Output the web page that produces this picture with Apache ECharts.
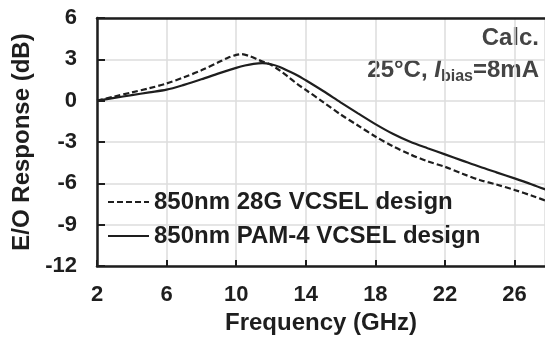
<!DOCTYPE html>
<html>
<head>
<meta charset="utf-8">
<title>E/O Response</title>
<script src="https://cdn.jsdelivr.net/npm/echarts@6/dist/echarts.min.js"></script>
<style>
    html, body { margin: 0; padding: 0; background: #fff; }
    #chart { width: 545px; height: 340px; }
</style>
</head>
<body>
<div id="chart"></div>
<script>
'use strict';

// 28G design (dashed)
var freq28G = [2, 3, 4, 5, 6, 7, 8, 9, 9.5, 10, 10.3, 10.8, 11.3, 12, 12.5, 13, 13.5, 14, 15, 16, 17, 18, 19, 20, 21, 22, 23, 24, 25, 26, 27, 28];
var resp28G = [0, 0.3, 0.6, 0.9, 1.25, 1.7, 2.2, 2.8, 3.1, 3.32, 3.38, 3.22, 2.95, 2.6, 2.2, 1.72, 1.22, 0.78, -0.1, -1.0, -1.8, -2.6, -3.3, -3.9, -4.4, -4.8, -5.3, -5.76, -6.1, -6.48, -6.9, -7.35];

// PAM-4 design (solid)
var freqPAM4 = [2, 3, 4, 5, 6, 7, 8, 9, 10, 10.5, 11, 11.5, 12, 12.5, 13, 13.5, 14, 15, 16, 17, 18, 19, 20, 21, 22, 23, 24, 25, 26, 27, 28];
var respPAM4 = [0, 0.2, 0.4, 0.6, 0.8, 1.15, 1.55, 1.98, 2.38, 2.55, 2.67, 2.72, 2.64, 2.45, 2.15, 1.85, 1.48, 0.7, -0.12, -0.92, -1.7, -2.4, -2.98, -3.45, -3.9, -4.35, -4.8, -5.22, -5.64, -6.08, -6.55];

var seriesNames = ['850nm 28G VCSEL design', '850nm PAM-4 VCSEL design'];
var yTicks = [-12, -9, -6, -3, 0, 3, 6];

// x axis starts at 2 GHz, ticks every 4 -> axis runs on (f - 2) so ticks fall on 2, 6, 10 ...
var X0 = 2;
function toPairs(xs, ys) {
    var out = [];
    for (var i = 0; i < xs.length; i++) {
        out.push([xs[i] - X0, ys[i]]);
    }
    return out;
}

var FONT = "'Liberation Sans', Arial, sans-serif";
var INK = '#1e1e1e';

var chart = echarts.init(document.getElementById('chart'));

var option = {
    animation: false,
    backgroundColor: '#fff',
    grid: { left: 97, right: 0, top: 18, bottom: 74 },
    legend: {
        orient: 'vertical',
        left: 107,
        top: 190,
        padding: 0,
        itemWidth: 41,
        itemHeight: 22,
        itemGap: 10,
        data: seriesNames,
        itemStyle: { opacity: 0 },
        textStyle: { fontFamily: FONT, fontSize: 24, fontWeight: 'bold', color: INK }
    },
    xAxis: [{
        type: 'value',
        min: 0,
        max: 25.75,
        interval: 4,
        name: 'Frequency (GHz)',
        nameLocation: 'middle',
        nameGap: 44,
        nameTextStyle: { fontFamily: FONT, fontSize: 24, fontWeight: 'bold', color: INK },
        axisLine: { show: true, onZero: false, lineStyle: { color: INK, width: 2.5 } },
        axisTick: { show: true, inside: true, length: 6, lineStyle: { color: INK, width: 2 } },
        axisLabel: {
            margin: 18,
            showMaxLabel: false,
            fontFamily: FONT, fontSize: 22, fontWeight: 'bold', color: INK,
            formatter: function (v) { return String(v + X0); }
        },
        splitLine: { show: true, lineStyle: { color: '#dcdcdc', width: 1.5 } }
    }, {
        // top frame line only
        type: 'value',
        position: 'top',
        min: 0,
        max: 25.75,
        axisLine: { show: true, onZero: false, lineStyle: { color: INK, width: 2.5 } },
        axisTick: { show: false },
        axisLabel: { show: false },
        splitLine: { show: false }
    }],
    yAxis: {
        type: 'value',
        min: yTicks[0],
        max: yTicks[yTicks.length - 1],
        interval: 3,
        name: 'E/O Response (dB)',
        nameLocation: 'middle',
        nameGap: 56,
        nameTextStyle: { fontFamily: FONT, fontSize: 24, fontWeight: 'bold', color: INK },
        axisLine: { show: true, onZero: false, lineStyle: { color: INK, width: 2.5 } },
        axisTick: { show: true, inside: true, length: 8, lineStyle: { color: INK, width: 2 } },
        axisLabel: { margin: 20, fontFamily: FONT, fontSize: 22, fontWeight: 'bold', color: INK },
        splitLine: { show: true, lineStyle: { color: '#dcdcdc', width: 1.5 } }
    },
    graphic: [{
        type: 'text',
        x: 539,
        y: 38,
        style: {
            text: 'Calc.',
            align: 'right',
            verticalAlign: 'middle',
            fontFamily: FONT, fontSize: 24, fontWeight: 'bold', fill: '#444'
        }
    }, {
        type: 'text',
        x: 539,
        y: 70,
        style: {
            text: '{a|25°C, }{i|I}{s|bias}{a|=8mA}',
            align: 'right',
            verticalAlign: 'middle',
            fill: '#444',
            rich: {
                a: { fontFamily: FONT, fontSize: 24, fontWeight: 'bold', fill: '#444', lineHeight: 30 },
                i: { fontFamily: FONT, fontSize: 24, fontWeight: 'bold', fontStyle: 'italic', fill: '#444', lineHeight: 30 },
                s: { fontFamily: FONT, fontSize: 16, fontWeight: 'bold', fill: '#444', lineHeight: 16, verticalAlign: 'bottom' }
            }
        }
    }],
    series: [{
        name: seriesNames[0],
        type: 'line',
        symbol: 'none',
        smooth: 0.3,
        clip: true,
        data: toPairs(freq28G, resp28G),
        lineStyle: { color: INK, width: 2.2, type: [6, 3] },
        itemStyle: { color: INK }
    }, {
        name: seriesNames[1],
        type: 'line',
        symbol: 'none',
        smooth: 0.3,
        clip: true,
        data: toPairs(freqPAM4, respPAM4),
        lineStyle: { color: INK, width: 2.2 },
        itemStyle: { color: INK }
    }]
};

chart.setOption(option);
</script>
</body>
</html>
